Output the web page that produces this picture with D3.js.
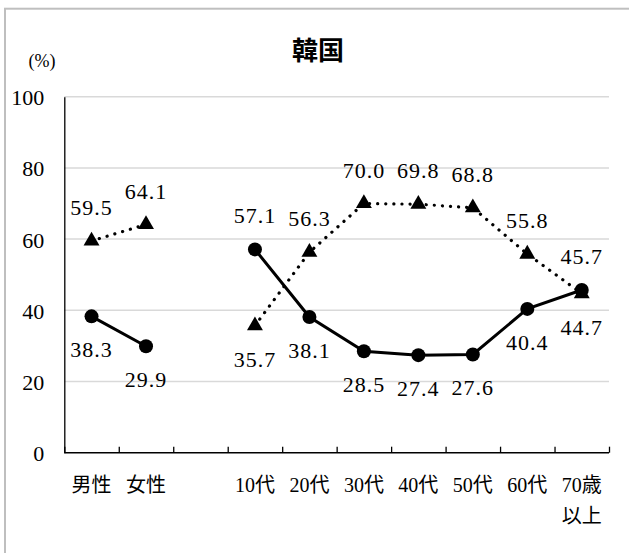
<!DOCTYPE html>
<html>
<head>
<meta charset="utf-8">
<script src="https://cdn.jsdelivr.net/npm/d3@7"></script>
<style>
  body { margin: 0; background: #fff; }
  text { fill: #000; }
  .num { font-family: "Liberation Serif", "Times New Roman", "DejaVu Serif", "Noto Sans CJK JP", serif; }
  .jp { font-family: "Noto Sans CJK JP", sans-serif; }
</style>
</head>
<body>
<svg id="chart" width="629" height="553"></svg>
<script>
// 表示するデータ
var categories = ["男性", "女性", "", "10代", "20代", "30代", "40代", "50代", "60代", "70歳以上"];
var tickLabels = [["男性"], ["女性"], [""], ["10代"], ["20代"], ["30代"], ["40代"], ["50代"], ["60代"], ["70歳", "以上"]];
var circleValues = [38.3, 29.9, null, 57.1, 38.1, 28.5, 27.4, 27.6, 40.4, 45.7];
var triangleValues = [59.5, 64.1, null, 35.7, 56.3, 70.0, 69.8, 68.8, 55.8, 44.7];
var yTicks = [0, 20, 40, 60, 80, 100];
var title = "韓国";
var unitLabel = "(%)";

drawChart();

function drawChart() {
    var svg = d3.select("#chart"),
        left = 64.3, right = 609,
        top = 96.7, bottom = 452.7;

    // 外枠
    svg.append("rect")
        .attr("x", 5).attr("y", 8.7)
        .attr("width", 700).attr("height", 600)
        .attr("fill", "none")
        .attr("stroke", "#bfbfbf")
        .attr("stroke-width", 2);

    var x = d3.scaleBand()
        .domain(d3.range(categories.length))
        .range([left, right])
        .padding(0);
    var xEdge = d3.scaleLinear()
        .domain([0, categories.length])
        .range([left, right]);
    var y = d3.scaleLinear()
        .domain([0, 100])
        .range([bottom, top]);

    var cx = i => x(i) + x.bandwidth() / 2;

    // gridlines
    svg.append("g")
        .selectAll("line")
        .data(yTicks.filter(d => d > 0))
        .join("line")
        .attr("x1", left).attr("x2", right)
        .attr("y1", d => y(d)).attr("y2", d => y(d))
        .attr("stroke", "#d9d9d9")
        .attr("stroke-width", 1.5);

    // y axis
    var yAxis = svg.append("g")
        .attr("transform", `translate(${left},0)`)
        .call(d3.axisLeft(y).tickValues(yTicks).tickSize(0).tickPadding(20));
    yAxis.attr("font-family", null).attr("font-size", null);
    yAxis.select(".domain").attr("stroke", "#000").attr("stroke-width", 1.3);
    yAxis.selectAll("text")
        .attr("class", "num")
        .style("font-size", "22px")
        .attr("dy", "0.36em");

    // x axis (boundary ticks pointing up)
    var xAxis = svg.append("g")
        .attr("transform", `translate(0,${bottom})`)
        .call(d3.axisBottom(xEdge).ticks(categories.length).tickSize(-6).tickFormat(""));
    xAxis.select(".domain").attr("stroke", "#000").attr("stroke-width", 1.5)
        .attr("d", `M${left},0H${right}`);
    xAxis.selectAll(".tick line").attr("stroke", "#000").attr("stroke-width", 1.3);

    var xLabels = svg.append("g")
        .selectAll("text")
        .data(tickLabels)
        .join("text")
        .attr("class", "num")
        .attr("x", (_, i) => cx(i))
        .attr("y", 492)
        .attr("text-anchor", "middle")
        .style("font-size", "20px");
    xLabels.selectAll("tspan")
        .data(d => d)
        .join("tspan")
        .attr("x", function() { return d3.select(this.parentNode).attr("x"); })
        .attr("dy", (_, j) => j === 0 ? 0 : 31)
        .text(d => d);

    // title & unit
    svg.append("text")
        .attr("class", "jp")
        .attr("x", 318).attr("y", 48)
        .attr("text-anchor", "middle")
        .attr("dominant-baseline", "central")
        .style("font-weight", "bold")
        .style("font-size", "26px")
        .text(title);
    svg.append("text")
        .attr("class", "num")
        .attr("x", 42).attr("y", 67)
        .attr("text-anchor", "middle")
        .style("font-size", "18px")
        .text(unitLabel);

    var line = d3.line()
        .defined(d => d != null)
        .x((_, i) => cx(i))
        .y(d => y(d));

    // 点線 (三角)
    svg.append("path")
        .datum(triangleValues)
        .attr("fill", "none")
        .attr("stroke", "#000")
        .attr("stroke-width", 3.2)
        .attr("stroke-linecap", "round")
        .attr("stroke-dasharray", "0.1 8")
        .attr("d", line);

    // 実線 (丸)
    svg.append("path")
        .datum(circleValues)
        .attr("fill", "none")
        .attr("stroke", "#000")
        .attr("stroke-width", 3)
        .attr("d", line);

    var tri = d3.symbol().type(d3.symbolTriangle).size(110);

    svg.append("g")
        .selectAll("path")
        .data(triangleValues.map((v, i) => ({v, i})).filter(d => d.v != null))
        .join("path")
        .attr("d", tri)
        .attr("transform", d => `translate(${cx(d.i)},${y(d.v)})`)
        .attr("fill", "#000");

    svg.append("g")
        .selectAll("circle")
        .data(circleValues.map((v, i) => ({v, i})).filter(d => d.v != null))
        .join("circle")
        .attr("cx", d => cx(d.i))
        .attr("cy", d => y(d.v))
        .attr("r", 7)
        .attr("fill", "#000");

    // data labels: 高い方を上、低い方を下
    var labels = [];
    categories.forEach(function(c, i) {
        var a = circleValues[i], b = triangleValues[i];
        if (a == null || b == null) return;
        labels.push({i: i, v: a, above: a > b});
        labels.push({i: i, v: b, above: b >= a});
    });

    svg.append("g")
        .selectAll("text")
        .data(labels)
        .join("text")
        .attr("class", "num")
        .attr("x", d => cx(d.i))
        .attr("y", d => d.above ? y(d.v) - 26 : y(d.v) + 41)
        .attr("text-anchor", "middle")
        .style("font-size", "22px")
        .style("letter-spacing", "1px")
        .text(d => d3.format(".1f")(d.v));
}
</script>
</body>
</html>
